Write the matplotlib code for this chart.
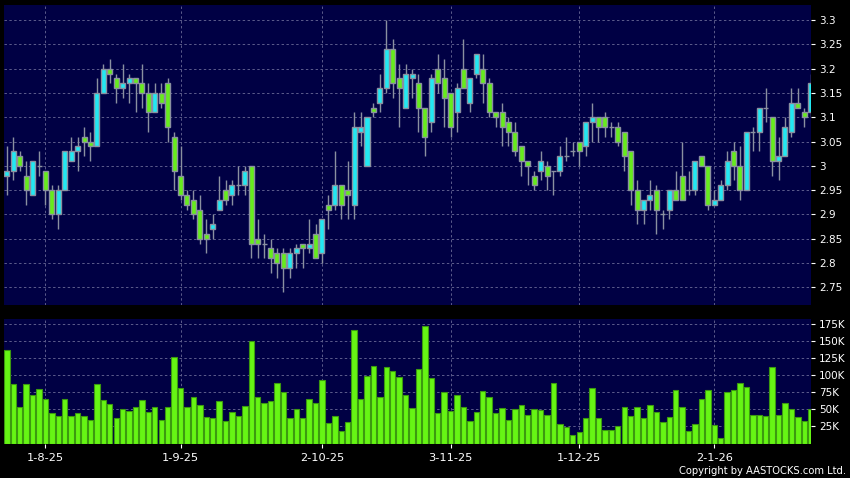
import matplotlib
matplotlib.use("Agg")
import matplotlib.pyplot as plt
import numpy as np

opens = [2.98,2.99,3.02,2.98,2.94,3.00,2.99,2.95,2.90,2.95,3.01,3.03,3.06,3.05,3.04,3.15,3.20,3.18,3.16,3.17,
         3.18,3.17,3.15,3.11,3.15,3.17,3.06,2.98,2.94,2.93,2.91,2.86,2.87,2.91,2.95,2.94,2.96,2.96,3.00,2.85,
         2.84,2.83,2.82,2.82,2.79,2.82,2.84,2.83,2.86,2.82,2.92,2.92,2.96,2.95,2.92,3.07,3.00,3.12,3.13,3.16,
         3.24,3.18,3.12,3.18,3.17,3.12,3.09,3.20,3.18,3.15,3.11,3.20,3.13,3.19,3.20,3.17,3.11,3.11,3.09,3.07,
         3.04,3.01,2.98,2.99,3.00,2.99,2.99,3.02,3.03,3.05,3.04,3.09,3.10,3.10,3.08,3.08,3.07,3.03,2.95,2.91,
         2.93,2.95,2.90,2.91,2.95,2.98,2.95,2.95,3.02,3.00,2.92,2.93,2.96,3.03,3.00,2.95,3.07,3.07,3.12,3.10,
         3.01,3.02,3.07,3.13,3.11,3.11]
highs = [3.04,3.06,3.03,3.01,3.01,3.03,2.99,2.96,2.96,3.03,3.06,3.06,3.08,3.07,3.18,3.21,3.22,3.19,3.21,3.19,
         3.18,3.21,3.17,3.17,3.17,3.18,3.07,3.04,2.95,2.95,2.94,2.89,2.90,2.98,2.97,2.97,3.00,3.00,3.00,2.89,
         2.86,2.85,2.83,2.83,2.83,2.84,2.84,2.89,2.88,2.89,2.94,3.03,2.96,3.01,3.11,3.11,3.10,3.13,3.19,3.30,
         3.26,3.21,3.21,3.20,3.19,3.12,3.19,3.23,3.22,3.15,3.17,3.26,3.18,3.23,3.23,3.18,3.11,3.13,3.10,3.09,
         3.04,3.01,2.99,3.03,3.01,2.99,3.04,3.06,3.05,3.05,3.09,3.13,3.10,3.11,3.09,3.09,3.07,3.03,2.97,2.93,
         2.97,2.96,2.91,2.95,2.99,3.05,2.99,3.01,3.02,3.00,2.95,2.97,3.03,3.05,3.04,3.07,3.08,3.12,3.16,3.10,
         3.06,3.10,3.16,3.16,3.12,3.19]
lows = [2.94,2.97,2.99,2.92,2.94,2.98,2.92,2.89,2.87,2.95,3.01,2.99,3.02,3.01,3.04,3.15,3.17,3.13,3.14,3.13,
        3.11,3.12,3.07,3.11,3.12,3.05,2.95,2.93,2.91,2.89,2.84,2.82,2.85,2.91,2.92,2.92,2.94,2.94,2.81,2.81,
        2.81,2.78,2.77,2.74,2.77,2.79,2.79,2.82,2.81,2.80,2.87,2.91,2.89,2.89,2.89,3.04,3.00,3.10,3.11,3.15,
        3.14,3.08,3.12,3.14,3.07,3.02,3.07,3.15,3.08,3.06,3.07,3.16,3.11,3.18,3.13,3.10,3.08,3.04,3.04,3.02,
        2.98,2.96,2.95,2.97,2.95,2.94,2.98,3.01,3.02,3.00,3.02,3.05,3.05,3.06,3.06,3.04,2.99,2.92,2.88,2.88,
        2.91,2.86,2.87,2.89,2.93,2.93,2.94,2.94,3.00,2.91,2.92,2.93,2.95,2.97,2.93,2.95,3.03,3.03,3.09,2.98,
        2.97,3.02,3.06,3.12,3.08,3.10]
closes = [2.99,3.03,3.00,2.95,3.01,3.00,2.95,2.90,2.95,3.03,3.03,3.04,3.05,3.04,3.15,3.20,3.19,3.16,3.17,3.18,
          3.17,3.15,3.11,3.15,3.13,3.08,2.99,2.94,2.92,2.90,2.85,2.85,2.88,2.93,2.93,2.96,2.96,2.99,2.84,2.84,
          2.84,2.81,2.80,2.79,2.82,2.83,2.83,2.84,2.81,2.89,2.91,2.96,2.92,2.94,3.08,3.08,3.10,3.11,3.16,3.24,
          3.17,3.16,3.19,3.19,3.12,3.06,3.18,3.17,3.14,3.08,3.16,3.16,3.18,3.23,3.17,3.11,3.10,3.08,3.07,3.03,
          3.01,3.00,2.96,3.01,2.98,2.99,3.02,3.02,3.03,3.03,3.09,3.10,3.08,3.08,3.08,3.05,3.02,2.95,2.91,2.93,
          2.94,2.91,2.90,2.95,2.93,2.93,2.95,3.01,3.00,2.92,2.93,2.96,3.01,3.00,2.95,3.07,3.07,3.12,3.12,3.01,
          3.02,3.08,3.13,3.12,3.10,3.17]
volumes_k = [137,88,54,88,71,80,65,45,41,65,40,45,41,35,88,64,58,38,51,48.5,
             53,64,46,54,35,54,127,82,53,69,57,39,37,62,33,46,40,55,150,68,
             60,62,89,76,37,50,37,65,59,93,30,40,18,31,167,66,99,114,69,112,
             106,98,72,52,110,173,97,45,75,48.5,71,54,33,47,77,69,45,52,34,50,
             56,42,50,49,42,89,28,24,12,17,38,82,38,20,20,25,53,40,53,37,
             57,46,32,39,79,54,19,29,66,78,27,8,75,78,89,83,42,42,40,113,
             42,59,50,39,33,50]

date_tick_idx = [6, 27, 49, 69, 89, 110]
date_tick_labels = ['1-8-25', '1-9-25', '2-10-25', '3-11-25', '1-12-25', '2-1-26']
price_ticks = [2.75, 2.8, 2.85, 2.9, 2.95, 3.0, 3.05, 3.1, 3.15, 3.2, 3.25, 3.3]
price_tick_labels = ['2.75', '2.8', '2.85', '2.9', '2.95', '3', '3.05', '3.1', '3.15', '3.2', '3.25', '3.3']
vol_ticks_k = [25, 50, 75, 100, 125, 150, 175]
vol_tick_labels = ['25K', '50K', '75K', '100K', '125K', '150K', '175K']

NAVY = '#000044'
CYAN = '#22e8f2'
GREEN = '#66ec1c'
EDGE = '#8a90a0'
GRID = '#5c5c8c'

o = np.array(opens); h = np.array(highs); l = np.array(lows); c = np.array(closes)
v = np.array(volumes_k)
x = np.arange(len(o))

fig = plt.figure(figsize=(8.5, 4.78), dpi=100, facecolor='black')
axp = fig.add_axes([4/850, 1-305/478, 806.7/850, 300/478])
axv = fig.add_axes([4/850, 1-443.5/478, 806.7/850, 124.5/478])

for ax in (axp, axv):
    ax.set_facecolor(NAVY)
    for s in ax.spines.values():
        s.set_visible(False)
    ax.set_xlim(-0.45, 125.0)
    ax.yaxis.tick_right()
    ax.tick_params(axis='y', colors='white', labelsize=7.5, length=3, width=0.8, pad=3, direction='out')
    for t in date_tick_idx:
        ax.axvline(t, color=GRID, lw=0.7, ls=(0, (2.5, 2.5)), zorder=0)

# price panel
axp.set_ylim(2.7136, 3.331)
axp.set_yticks(price_ticks)
axp.set_yticklabels(price_tick_labels)
axp.set_xticks([])
for p in price_ticks:
    axp.axhline(p, color=GRID, lw=0.7, ls=(0, (2.5, 2.5)), zorder=0)

axp.vlines(x, l, h, color=EDGE, lw=1.0, zorder=2)
colors = [CYAN if cc > oo else GREEN for oo, cc in zip(o, c)]
bottoms = np.minimum(o, c)
heights = np.abs(c - o)
axp.bar(x, heights, bottom=bottoms, width=0.78, color=colors, edgecolor=EDGE, linewidth=1.0, zorder=3)

# volume panel
axv.set_ylim(0, 183)
axv.set_yticks(vol_ticks_k)
axv.set_yticklabels(vol_tick_labels)
for t in vol_ticks_k:
    axv.axhline(t, color=GRID, lw=0.7, ls=(0, (2.5, 2.5)), zorder=0)
axv.bar(x, v, width=0.84, color='#66f514', edgecolor='#3c9a10', linewidth=0.8, zorder=3)
axv.set_xticks(date_tick_idx)
axv.set_xticklabels(date_tick_labels)
axv.tick_params(axis='x', colors='white', labelsize=8.2, length=3, width=0.8, pad=4, direction='out')

fig.text(0.996, 0.004, 'Copyright by AASTOCKS.com Ltd.', color='white', fontsize=7.2,
         ha='right', va='bottom')

fig.savefig('out.png', dpi=100, facecolor='black')
